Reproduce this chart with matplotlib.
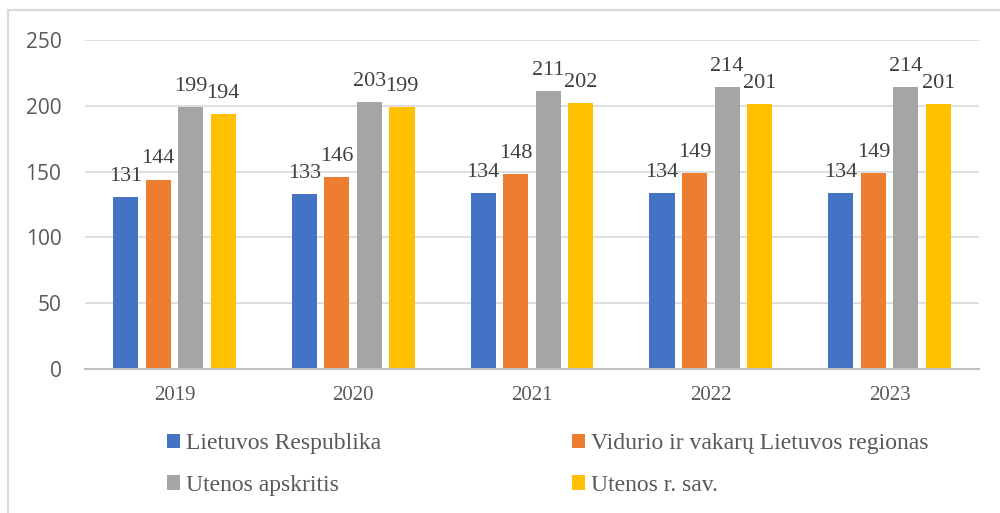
import matplotlib.pyplot as plt
import numpy as np
from matplotlib.lines import Line2D

years = ['2019', '2020', '2021', '2022', '2023']
series = ['Lietuvos Respublika', 'Vidurio ir vakarų Lietuvos regionas',
          'Utenos apskritis', 'Utenos r. sav.']
lr = [131, 133, 134, 134, 134]
vv = [144, 146, 148, 149, 149]
ua = [199, 203, 211, 214, 214]
urs = [194, 199, 202, 201, 201]
colors = ['#4472C4', '#ED7D31', '#A5A5A5', '#FFC000']

fig = plt.figure(figsize=(10, 5.13), dpi=100)
ax = fig.add_axes([0.085, 0.2807, 0.894, 0.6413])

x = np.arange(len(years))
w = 0.14
step = 0.182
bars = []
for i, (vals, c) in enumerate(zip([lr, vv, ua, urs], colors)):
    b = ax.bar(x + (i - 1.5) * step, vals, w, color=c, label=series[i], zorder=3)
    bars.append(b)
    ax.bar_label(b, padding=8, fontsize=16, color='#404040', family='Liberation Serif')

ax.set_xlim(-0.5, 4.5)
ax.set_ylim(0, 250)
ax.set_yticks([0, 50, 100, 150, 200, 250])
ax.set_xticks(x)
ax.set_xticklabels(years, family='Liberation Serif', fontsize=15, color='#595959')
for t in ax.get_yticklabels():
    t.set_family('Open Sans')
    t.set_fontsize(15)
    t.set_color('#595959')
ax.tick_params(length=0)
ax.tick_params(axis='y', pad=17)
ax.tick_params(axis='x', pad=12)
ax.grid(axis='y', color='#d9d9d9', linewidth=1.2, zorder=0)
for s in ['top', 'right', 'left']:
    ax.spines[s].set_visible(False)
ax.spines['bottom'].set_color('#bfbfbf')
ax.spines['bottom'].set_linewidth(1.5)
ax.spines['bottom'].set_zorder(4)

# order so rows read LR, VV / UA, URS
h = [bars[0], bars[2], bars[1], bars[3]]
l = [series[0], series[2], series[1], series[3]]
fig.legend(h, l, ncol=2, loc='upper left', bbox_to_anchor=(0.167, 0.155),
           frameon=False, prop={'family': 'Liberation Serif', 'size': 17},
           labelcolor='#595959', handlelength=0.55, handleheight=0.55,
           handletextpad=0.25, columnspacing=8.1, labelspacing=0.86,
           borderaxespad=0, borderpad=0)

# chart border (only top and left visible)
fig.add_artist(Line2D([0.008, 1.0], [0.981, 0.981], color='#d9d9d9', lw=1.5))
fig.add_artist(Line2D([0.008, 0.008], [0.0, 0.981], color='#d9d9d9', lw=1.5))

fig.savefig('out.png', dpi=100)
